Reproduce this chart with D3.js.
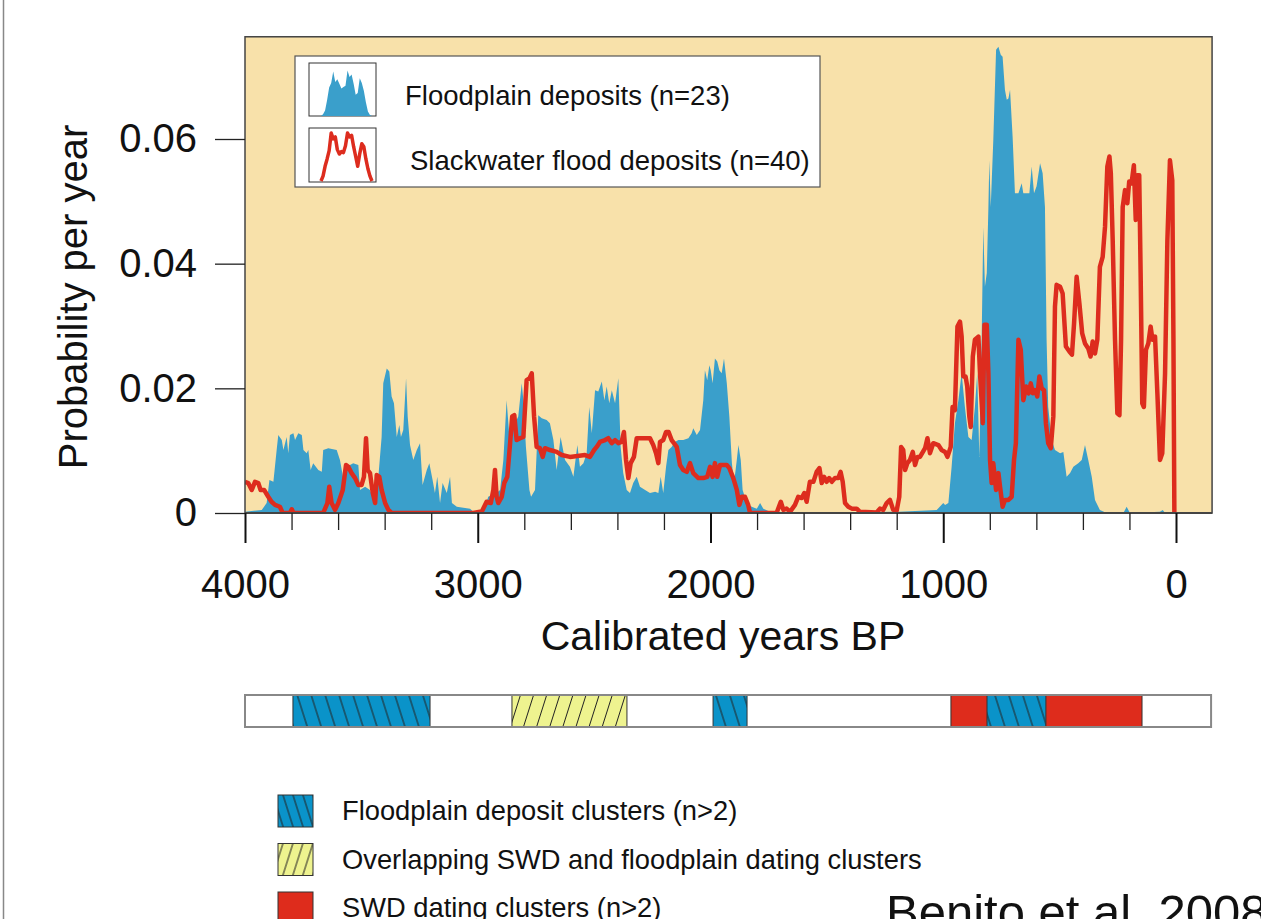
<!DOCTYPE html>
<html>
<head>
<meta charset="utf-8">
<script src="https://cdn.jsdelivr.net/npm/d3@7"></script>
<style>
  body { margin: 0; background: #fff; }
  svg { display: block; font-family: "Liberation Sans", Arial, Helvetica, sans-serif; }
</style>
</head>
<body>
<svg id="chart" width="1261" height="919"></svg>
<script>
// summed probability, floodplain deposits (n=23): [cal yr BP, probability/yr]
const floodplain = [
  [4000,0.0002],[3928,0.0005],[3907,0.0016],[3895,0.0053],[3878,0.0050],[3864,0.0101],[3857,0.0125],[3842,0.0117],
  [3835,0.0101],[3821,0.0122],[3814,0.0096],[3807,0.0125],[3792,0.0128],[3785,0.0117],[3771,0.0128],[3756,0.0125],
  [3749,0.0101],[3735,0.0096],[3728,0.0101],[3718,0.0069],[3707,0.0080],[3685,0.0069],[3670,0.0066],[3664,0.0101],
  [3642,0.0104],[3606,0.0101],[3592,0.0085],[3578,0.0056],[3563,0.0074],[3535,0.0080],[3513,0.0077],[3506,0.0037],
  [3484,0.0042],[3463,0.0037],[3441,0.0016],[3427,0.0058],[3413,0.0122],[3406,0.0208],[3391,0.0232],[3380,0.0227],
  [3370,0.0187],[3360,0.0176],[3348,0.0122],[3337,0.0141],[3330,0.0122],[3320,0.0133],[3308,0.0216],[3301,0.0155],
  [3291,0.0109],[3277,0.0085],[3262,0.0101],[3248,0.0112],[3237,0.0045],[3219,0.0069],[3208,0.0080],[3194,0.0053],
  [3184,0.0032],[3174,0.0058],[3162,0.0016],[3151,0.0048],[3133,0.0032],[3119,0.0058],[3111,0.0016],[3090,0.0010],
  [3033,0.0007],[3019,0.0002],[2990,0.0002],[2976,0.0000],[2955,0.0026],[2919,0.0032],[2904,0.0037],[2890,0.0085],
  [2876,0.0181],[2864,0.0122],[2847,0.0138],[2826,0.0155],[2811,0.0208],[2804,0.0181],[2793,0.0106],[2778,0.0037],
  [2771,0.0026],[2754,0.0037],[2740,0.0157],[2725,0.0152],[2704,0.0149],[2690,0.0144],[2675,0.0117],[2661,0.0069],
  [2644,0.0122],[2625,0.0085],[2604,0.0074],[2589,0.0058],[2572,0.0109],[2561,0.0074],[2546,0.0080],[2532,0.0096],
  [2521,0.0170],[2510,0.0128],[2496,0.0197],[2482,0.0195],[2467,0.0211],[2456,0.0181],[2446,0.0203],[2435,0.0176],
  [2424,0.0197],[2410,0.0176],[2396,0.0216],[2386,0.0106],[2375,0.0064],[2360,0.0037],[2346,0.0032],[2332,0.0048],
  [2317,0.0058],[2303,0.0042],[2281,0.0037],[2260,0.0032],[2238,0.0034],[2224,0.0032],[2214,0.0058],[2203,0.0032],
  [2191,0.0074],[2181,0.0101],[2167,0.0106],[2153,0.0114],[2138,0.0117],[2117,0.0117],[2095,0.0120],[2081,0.0128],
  [2074,0.0136],[2059,0.0125],[2045,0.0133],[2031,0.0181],[2024,0.0229],[2014,0.0213],[2005,0.0237],[1999,0.0229],
  [1991,0.0208],[1981,0.0248],[1971,0.0243],[1962,0.0229],[1952,0.0224],[1942,0.0248],[1930,0.0208],[1919,0.0155],
  [1908,0.0080],[1899,0.0048],[1887,0.0085],[1880,0.0109],[1870,0.0085],[1862,0.0037],[1844,0.0016],[1823,0.0010],
  [1801,0.0007],[1787,0.0016],[1773,0.0007],[1744,0.0002],[1700,0.0001],[1600,0.0001],[1190,0.0002],[1028,0.0005],
  [1000,0.0016],[992,0.0013],[978,0.0016],[964,0.0074],[950,0.0144],[935,0.0181],[921,0.0224],[907,0.0170],
  [892,0.0122],[878,0.0117],[864,0.0170],[854,0.0224],[845,0.0090],[835,0.0278],[828,0.0459],[821,0.0363],
  [813,0.0385],[806,0.0491],[802,0.0566],[796,0.0491],[785,0.0598],[773,0.0743],[763,0.0748],[753,0.0735],
  [745,0.0732],[735,0.0679],[727,0.0663],[720,0.0665],[713,0.0679],[702,0.0604],[692,0.0513],[677,0.0513],
  [663,0.0529],[656,0.0513],[642,0.0513],[630,0.0513],[620,0.0556],[610,0.0513],[599,0.0524],[584,0.0561],
  [573,0.0545],[563,0.0491],[556,0.0278],[549,0.0170],[534,0.0117],[520,0.0101],[498,0.0096],[484,0.0098],
  [470,0.0058],[455,0.0064],[441,0.0074],[420,0.0080],[405,0.0085],[391,0.0109],[377,0.0085],[362,0.0058],
  [348,0.0021],[327,0.0005],[298,0],[226,0],[212,0.0010],[198,0],[69,0.0002],[57,0.0005],[47,0],[0,0]
];

// summed probability, slackwater flood deposits (n=40)
const slackwater = [
  [4000,0.0050],[3986,0.0048],[3971,0.0037],[3957,0.0050],[3943,0.0048],[3933,0.0037],[3918,0.0037],[3900,0.0026],
  [3886,0.0018],[3871,0.0013],[3850,0.0010],[3838,0],[3807,0],[3799,0.0006],[3792,0],[3664,0],
  [3646,0.0016],[3638,0.0042],[3628,0.0016],[3613,0.0005],[3599,0.0016],[3580,0.0037],[3566,0.0077],[3556,0.0074],
  [3542,0.0064],[3527,0.0056],[3513,0.0045],[3499,0.0045],[3489,0.0058],[3480,0.0120],[3473,0.0069],[3463,0.0064],
  [3451,0.0032],[3441,0.0016],[3434,0.0061],[3423,0.0058],[3413,0.0037],[3398,0.0016],[3384,0.0005],[3370,0],
  [3019,0],[2990,0.0002],[2983,0.0002],[2962,0.0018],[2944,0.0016],[2933,0.0037],[2926,0.0069],[2919,0.0026],
  [2912,0.0016],[2897,0.0026],[2886,0.0048],[2873,0.0058],[2861,0.0112],[2852,0.0155],[2843,0.0157],[2833,0.0117],
  [2818,0.0120],[2804,0.0122],[2790,0.0213],[2778,0.0216],[2768,0.0224],[2758,0.0155],[2747,0.0106],[2733,0.0104],
  [2721,0.0090],[2711,0.0104],[2690,0.0101],[2661,0.0098],[2639,0.0093],[2604,0.0090],[2539,0.0093],[2518,0.0090],
  [2500,0.0101],[2489,0.0106],[2475,0.0114],[2453,0.0117],[2439,0.0120],[2424,0.0112],[2410,0.0117],[2396,0.0112],
  [2382,0.0114],[2372,0.0130],[2363,0.0085],[2353,0.0056],[2343,0.0080],[2329,0.0090],[2317,0.0120],[2260,0.0120],
  [2246,0.0109],[2234,0.0096],[2224,0.0080],[2217,0.0114],[2203,0.0117],[2191,0.0130],[2180,0.0130],[2167,0.0117],
  [2157,0.0112],[2145,0.0106],[2131,0.0077],[2117,0.0069],[2102,0.0066],[2088,0.0080],[2074,0.0064],[2052,0.0056],
  [2031,0.0056],[2014,0.0058],[2002,0.0074],[1991,0.0058],[1981,0.0080],[1971,0.0058],[1959,0.0077],[1930,0.0077],
  [1919,0.0072],[1902,0.0056],[1887,0.0037],[1876,0.0013],[1866,0.0026],[1852,0.0026],[1838,0.0013],[1830,0],
  [1716,0],[1698,0.0018],[1687,0.0005],[1673,0.0007],[1658,0.0002],[1637,0.0013],[1623,0.0026],[1608,0.0024],
  [1597,0.0032],[1587,0.0018],[1573,0.0050],[1558,0.0050],[1544,0.0066],[1532,0.0072],[1522,0.0048],[1512,0.0058],
  [1501,0.0050],[1490,0.0056],[1479,0.0050],[1465,0.0056],[1451,0.0056],[1441,0.0066],[1432,0.0050],[1422,0.0016],
  [1408,0.0010],[1393,0.0007],[1372,0.0007],[1358,0.0002],[1286,0.0001],[1272,0.0007],[1258,0.0005],[1243,0.0016],
  [1229,0.0021],[1215,0.0005],[1200,0.0004],[1189,0.0026],[1181,0.0106],[1172,0.0101],[1164,0.0069],[1154,0.0080],
  [1143,0.0085],[1131,0.0098],[1121,0.0077],[1111,0.0090],[1100,0.0090],[1078,0.0104],[1068,0.0120],[1057,0.0096],
  [1043,0.0112],[1021,0.0109],[1007,0.0101],[992,0.0098],[982,0.0090],[968,0.0106],[960,0.0170],[950,0.0165],
  [939,0.0299],[928,0.0307],[921,0.0283],[914,0.0219],[904,0.0219],[897,0.0203],[888,0.0155],[882,0.0138],
  [873,0.0251],[864,0.0278],[849,0.0283],[842,0.0224],[830,0.0144],[823,0.0302],[813,0.0302],[806,0.0224],
  [799,0.0085],[792,0.0048],[785,0.0080],[773,0.0037],[763,0.0064],[756,0.0042],[745,0.0010],[735,0.0021],
  [720,0.0021],[706,0.0026],[696,0.0085],[688,0.0112],[677,0.0278],[667,0.0262],[656,0.0181],[644,0.0203],
  [633,0.0192],[624,0.0208],[615,0.0192],[606,0.0197],[596,0.0187],[587,0.0219],[577,0.0200],[567,0.0197],
  [559,0.0144],[549,0.0112],[538,0.0104],[527,0.0155],[520,0.0331],[513,0.0366],[498,0.0363],[487,0.0352],
  [473,0.0267],[458,0.0259],[447,0.0254],[438,0.0304],[427,0.0379],[415,0.0336],[403,0.0288],[391,0.0272],
  [377,0.0264],[367,0.0251],[358,0.0275],[348,0.0256],[338,0.0278],[327,0.0395],[315,0.0411],[305,0.0459],
  [295,0.0556],[286,0.0572],[280,0.0545],[272,0.0438],[262,0.0278],[252,0.0160],[243,0.0157],[236,0.0278],
  [229,0.0491],[219,0.0518],[209,0.0497],[201,0.0532],[191,0.0529],[181,0.0558],[173,0.0470],[166,0.0542],
  [158,0.0542],[152,0.0385],[145,0.0176],[138,0.0170],[129,0.0262],[119,0.0272],[109,0.0299],[101,0.0278],
  [90,0.0283],[80,0.0192],[69,0.0085],[59,0.0096],[47,0.0224],[37,0.0438],[26,0.0566],[16,0.0534],[11,0.0278],[7,0]
];

const yTicks = [0, 0.02, 0.04, 0.06];
const xMajorTicks = [4000, 3000, 2000, 1000, 0];
const xMinorTicks = d3.range(0, 4001, 200).filter(d => d % 1000 !== 0);

// clusters on the strip below the chart: [from, to, kind]
const clusters = [
  [3794, 3205, "floodplain"],
  [2853, 2359, "overlap"],
  [1989, 1843, "floodplain"],
  [967, 146, "swd"],
  [812, 559, "floodplain"]
];
const clusterKinds = ["floodplain", "overlap", "swd"];
const clusterLabels = [
  "Floodplain deposit clusters (n>2)",
  "Overlapping SWD and floodplain dating clusters",
  "SWD dating clusters (n>2)"
];
const seriesLabels = ["Floodplain deposits (n=23)", "Slackwater flood deposits (n=40)"];

// small shapes for the legend icons
const iconFloodplain = [0,0.04,0.12,0.35,0.62,0.72,0.97,0.74,0.8,0.7,0.6,0.63,0.66,0.99,0.85,0.9,0.7,0.46,0.5,0.82,0.72,0.55,0.3,0.1,0.02,0];
const iconSlackwater = [0,0.1,0.3,0.45,0.62,0.98,0.86,0.9,0.64,0.55,0.6,0.58,0.72,0.98,0.9,0.93,0.7,0.5,0.3,0.56,0.76,0.7,0.45,0.25,0.1,0];

const colors = {
  bg: "#F8E1AA",
  floodplain: "#3A9FCB",
  slackwater: "#DD2C1E",
  barBlue: "#0A93C9",
  barYellow: "#EEF38F",
  barRed: "#DE2C1C"
};

const svg = d3.select("#chart");

// page edge line
svg.append("line")
  .attr("x1", 3.5).attr("x2", 3.5).attr("y1", 0).attr("y2", 919)
  .attr("stroke", "#888").attr("stroke-width", 1.5);

const x = d3.scaleLinear().domain([4000, 0]).range([245, 1176]);
const y = d3.scaleLinear().domain([0, 0.06]).range([513, 139]);

const plotLeft = x(4000), plotRight = x(-155), plotTop = y(0.0764), plotBottom = y(0);

const defs = svg.append("defs");
defs.append("clipPath").attr("id", "plotClip")
  .append("rect")
  .attr("x", plotLeft).attr("y", plotTop)
  .attr("width", plotRight - plotLeft).attr("height", plotBottom - plotTop);

// hatch patterns for the cluster strip
function hatch(id, fill, angle, size) {
  const p = defs.append("pattern")
    .attr("id", id)
    .attr("patternUnits", "userSpaceOnUse")
    .attr("width", size).attr("height", size)
    .attr("patternTransform", `rotate(${angle})`);
  p.append("rect").attr("width", size).attr("height", size).attr("fill", fill);
  p.append("line")
    .attr("x1", size / 2).attr("x2", size / 2).attr("y1", 0).attr("y2", size)
    .attr("stroke", "#222").attr("stroke-width", 1);
}
hatch("hatchBlue", colors.barBlue, -17.6, 13.3);
hatch("hatchYellow", colors.barYellow, 17.6, 12.5);
hatch("hatchBlueSmall", colors.barBlue, -17.6, 9.5);
hatch("hatchYellowSmall", colors.barYellow, 17.6, 9.5);

const kindFill = { floodplain: "url(#hatchBlue)", overlap: "url(#hatchYellow)", swd: colors.barRed };
const kindFillSmall = { floodplain: "url(#hatchBlueSmall)", overlap: "url(#hatchYellowSmall)", swd: colors.barRed };

// plot background
svg.append("rect")
  .attr("x", plotLeft).attr("y", plotTop)
  .attr("width", plotRight - plotLeft).attr("height", plotBottom - plotTop)
  .attr("fill", colors.bg);

const plot = svg.append("g").attr("clip-path", "url(#plotClip)");

const area = d3.area()
  .x(d => x(d[0]))
  .y0(y(0))
  .y1(d => y(d[1]));

plot.append("path")
  .datum(floodplain)
  .attr("fill", colors.floodplain)
  .attr("d", area);

const line = d3.line()
  .x(d => x(d[0]))
  .y(d => y(d[1]));

plot.append("path")
  .datum(slackwater)
  .attr("fill", "none")
  .attr("stroke", colors.slackwater)
  .attr("stroke-width", 4.5)
  .attr("stroke-linejoin", "round")
  .attr("d", line);

// frame
svg.append("rect")
  .attr("x", plotLeft).attr("y", plotTop)
  .attr("width", plotRight - plotLeft).attr("height", plotBottom - plotTop)
  .attr("fill", "none").attr("stroke", "#444").attr("stroke-width", 1.5);
svg.append("line")
  .attr("x1", plotLeft).attr("x2", plotRight).attr("y1", plotBottom).attr("y2", plotBottom)
  .attr("stroke", "#444").attr("stroke-width", 2);

// y axis
const yAxis = svg.append("g")
  .attr("transform", `translate(${plotLeft},0)`)
  .call(d3.axisLeft(y).tickValues(yTicks).tickSize(30).tickPadding(18)
    .tickFormat(d => d === 0 ? "0" : d3.format(".2f")(d)));
yAxis.select(".domain").remove();
yAxis.selectAll(".tick line").attr("stroke", "#222").attr("stroke-width", 1.3);
yAxis.selectAll(".tick text")
  .attr("fill", "#111")
  .style("font-family", "'Liberation Sans', Arial, sans-serif")
  .style("font-size", "40px");

// x axis, minor then major ticks
const xMinor = svg.append("g")
  .attr("transform", `translate(0,${plotBottom})`)
  .call(d3.axisBottom(x).tickValues(xMinorTicks).tickSize(17).tickFormat(""));
xMinor.select(".domain").remove();
xMinor.selectAll(".tick line").attr("stroke", "#222").attr("stroke-width", 1.3);

const xMajor = svg.append("g")
  .attr("transform", `translate(0,${plotBottom})`)
  .call(d3.axisBottom(x).tickValues(xMajorTicks).tickSize(30).tickPadding(27).tickFormat(d3.format("d")));
xMajor.select(".domain").remove();
xMajor.selectAll(".tick line").attr("stroke", "#111").attr("stroke-width", 2);
xMajor.selectAll(".tick text")
  .attr("fill", "#111")
  .style("font-family", "'Liberation Sans', Arial, sans-serif")
  .style("font-size", "40px");

// axis titles
svg.append("text")
  .attr("transform", "translate(87,297) rotate(-90)")
  .attr("text-anchor", "middle")
  .attr("fill", "#111")
  .style("font-size", "40px")
  .text("Probability per year");

svg.append("text")
  .attr("x", 723).attr("y", 650)
  .attr("text-anchor", "middle")
  .attr("fill", "#111")
  .style("font-size", "41px")
  .text("Calibrated years BP");

// legend in the plot
const legend = svg.append("g");
legend.append("rect")
  .attr("x", 295).attr("y", 56).attr("width", 525).attr("height", 131)
  .attr("fill", "#fff").attr("stroke", "#555").attr("stroke-width", 1.2);

const ix = d3.scaleLinear().domain([0, iconFloodplain.length - 1]).range([321, 372]);
const iy1 = d3.scaleLinear().domain([0, 1]).range([116, 70]);
const iy2 = d3.scaleLinear().domain([0, 1]).range([181, 132]);

legend.append("rect").attr("x", 309).attr("y", 63).attr("width", 67).attr("height", 53)
  .attr("fill", "#fff").attr("stroke", "#333").attr("stroke-width", 1);
legend.append("path")
  .datum(iconFloodplain)
  .attr("fill", colors.floodplain)
  .attr("d", d3.area().x((d, i) => ix(i)).y0(iy1(0)).y1(d => iy1(d)));

legend.append("rect").attr("x", 309).attr("y", 128).attr("width", 67).attr("height", 54)
  .attr("fill", "#fff").attr("stroke", "#333").attr("stroke-width", 1);
legend.append("path")
  .datum(iconSlackwater)
  .attr("fill", "none").attr("stroke", colors.slackwater).attr("stroke-width", 3.5)
  .attr("stroke-linejoin", "round")
  .attr("d", d3.line().x((d, i) => ix(i)).y(d => iy2(d)));

legend.selectAll(".series-label")
  .data(seriesLabels)
  .enter().append("text")
  .attr("class", "series-label")
  .attr("x", (d, i) => i === 0 ? 405 : 410)
  .attr("y", (d, i) => i === 0 ? 105 : 170)
  .attr("fill", "#111")
  .style("font-size", "27.5px")
  .text(d => d);

// cluster strip
const stripTop = 695, stripH = 32;
svg.append("rect")
  .attr("x", plotLeft).attr("y", stripTop)
  .attr("width", plotRight - plotLeft - 1).attr("height", stripH)
  .attr("fill", "#fff");

svg.selectAll(".cluster")
  .data(clusters)
  .enter().append("rect")
  .attr("class", "cluster")
  .attr("x", d => x(d[0]))
  .attr("y", stripTop)
  .attr("width", d => x(d[1]) - x(d[0]))
  .attr("height", stripH)
  .attr("fill", d => kindFill[d[2]])
  .attr("stroke", "#333").attr("stroke-width", 1);

svg.append("rect")
  .attr("x", plotLeft).attr("y", stripTop)
  .attr("width", plotRight - plotLeft - 1).attr("height", stripH)
  .attr("fill", "none").attr("stroke", "#888").attr("stroke-width", 2);

// cluster legend
const cl = svg.selectAll(".cluster-key")
  .data(clusterKinds)
  .enter().append("g")
  .attr("class", "cluster-key")
  .attr("transform", (d, i) => `translate(278,${795 + i * 48.5})`);
cl.append("rect")
  .attr("width", 35).attr("height", 32)
  .attr("fill", d => kindFillSmall[d])
  .attr("stroke", "#333").attr("stroke-width", 1);
cl.append("text")
  .attr("x", 64).attr("y", 25)
  .attr("fill", "#111")
  .style("font-size", "27.3px")
  .text((d, i) => clusterLabels[i]);

svg.append("text")
  .attr("x", 886).attr("y", 929)
  .attr("fill", "#111")
  .style("font-size", "49px")
  .text("Benito et al. 2008");
</script>
</body>
</html>
